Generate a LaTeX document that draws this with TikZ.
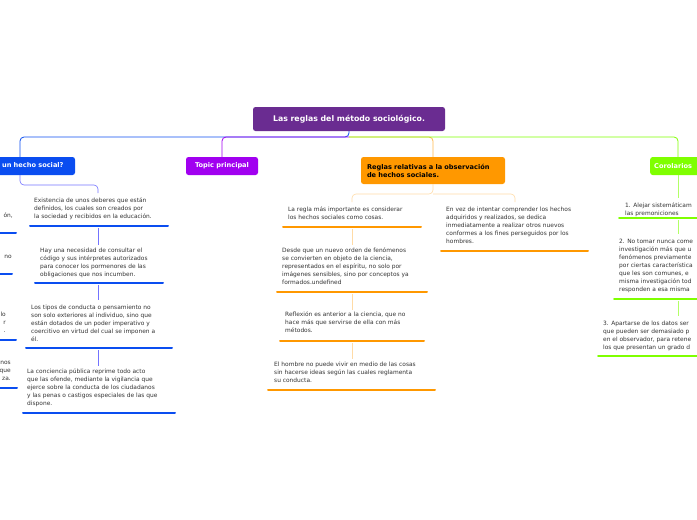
\documentclass[tikz,border=0pt]{standalone}
\usepackage{fontspec}
\setmainfont{DejaVu Sans}
\begin{document}
\begin{tikzpicture}[x=1pt,y=-1pt,
  txt/.style={font=\fontsize{5.9}{8}\selectfont, text=black!80, inner sep=0pt, align=left},
  hd/.style={font=\fontsize{6.6}{8}\selectfont\bfseries, rounded corners=2.5pt, inner sep=0pt},
  bl/.style={draw=blue!55!white, line width=0.6pt},
  ul/.style={line width=2pt, line cap=round}]
\definecolor{cb}{HTML}{0A4DF0}\definecolor{cp}{HTML}{6A2C91}\definecolor{cv}{HTML}{A100F0}
\definecolor{co}{HTML}{FF9800}\definecolor{cg}{HTML}{7FFF00}
\path[use as bounding box] (0,0) rectangle (697,520);
\clip (0,0) rectangle (697,520);
% root
\node[hd, font=\fontsize{7.8}{9}\selectfont\bfseries, fill=cp, text=white, minimum width=192, minimum height=24] (root) at (349,119) {Las reglas del método sociológico.};
% top connectors
\coordinate (rb) at (349,137);
\draw[cb, line width=0.8pt, rounded corners=4pt] (root.south) -- (rb) -- (20,137) -- (20,157);
\draw[cv, line width=0.8pt, rounded corners=4pt] (rb) -- (222,137) -- (222,157);
\draw[co!70!white, line width=0.8pt, rounded corners=4pt] (rb) -- (433,137) -- (433,157);
\draw[cg, line width=0.8pt, rounded corners=4pt] (rb) -- (678,137) -- (678,157);
% heads
\node[hd, fill=cb, text=white, minimum width=116, minimum height=18] (h1) at (17,166) {¿Qué es un hecho social?};
\node[hd, fill=cv, text=white, minimum width=72, minimum height=18] (h2) at (222,166) {Topic principal};
\node[hd, fill=co, text=black, minimum width=144, minimum height=27, align=left, text width=132] (h3) at (433,170.5) {Reglas relativas a la observación\\de hechos sociales.};
\node[hd, fill=cg, text=white, minimum width=70, minimum height=18, anchor=west, text width=62] (h4) at (650,166) {Corolarios};
% blue branch
\draw[bl, rounded corners=4pt] (20,175) -- (20,185) -- (98,185) -- (98,193);
\draw[bl] (98,228) -- (98,245) (98,285) -- (98,300) (98,350) -- (98,366);
\node[txt, anchor=north west] (b1) at (34,198) {Existencia de unos deberes que están\\definidos, los cuales son creados por\\la sociedad y recibidos en la educación.};
\draw[ul, cb] (30,226) -- (168,226);
\node[txt, anchor=north west] (b2) at (40,248) {Hay una necesidad de consultar el\\código y sus intérpretes autorizados\\para conocer los pormenores de las\\obligaciones que nos incumben.};
\draw[ul, cb] (35,283) -- (163,283);
\node[txt, anchor=north west] (b3) at (31,305) {Los tipos de conducta o pensamiento no\\son solo exteriores al individuo, sino que\\están dotados de un poder imperativo y\\coercitivo en virtud del cual se imponen a\\él.};
\draw[ul, cb] (26,348) -- (172,348);
\node[txt, anchor=north west] (b4) at (27,369) {La conciencia pública reprime todo acto\\que las ofende, mediante la vigilancia que\\ejerce sobre la conducta de los ciudadanos\\y las penas o castigos especiales de las que\\dispone.};
\draw[ul, cb] (23,413) -- (175,413);
% left fragments
\node[txt, anchor=north east, align=right] (l1) at (13,213) {ón,};
\draw[ul, cb] (-5,233) -- (16,233);
\node[txt, anchor=north east, align=right] (l2) at (12,255) {no};
\draw[ul, cb] (-5,274) -- (12,274);
\node[txt, anchor=north east, align=right] (l3) at (6,312) {lo\\r\\.};
\draw[ul, cb] (-5,340) -- (16,340);
\node[txt, anchor=north east, align=right] (l4) at (11,361) {nos\\que\\za.};
\draw[ul, cb] (-5,388) -- (17,388);
% orange branch
\draw[co!35!white, line width=0.6pt, rounded corners=4pt] (h3.south) -- (433,194) -- (352,194) -- (352,202);
\draw[co!35!white, line width=0.6pt, rounded corners=4pt] (433,194) -- (515,194) -- (515,202);
\draw[co!35!white, line width=0.6pt] (352,229) -- (352,245) (352,294) -- (352,310) (352,343) -- (352,359);
\node[txt, anchor=north west] (o1) at (288,207) {La regla más importante es considerar\\los hechos sociales como cosas.};
\draw[ul, co] (283,227) -- (421,227);
\node[txt, anchor=north west] (o2) at (282,248) {Desde que un nuevo orden de fenómenos\\se convierten en objeto de la ciencia,\\representados en el espíritu, no solo por\\imágenes sensibles, sino por conceptos ya\\formados.undefined};
\draw[ul, co] (277,292) -- (427,292);
\node[txt, anchor=north west] (o3) at (285,312) {Reflexión es anterior a la ciencia, que no\\hace más que servirse de ella con más\\métodos.};
\draw[ul, co] (280,341) -- (424,341);
\node[txt, anchor=north west] (o4) at (274,362) {El hombre no puede vivir en medio de las cosas\\sin hacerse ideas según las cuales reglamenta\\su conducta.};
\draw[ul, co] (268,390) -- (435,390);
\node[txt, anchor=north west] (o5) at (446,207) {En vez de intentar comprender los hechos\\adquiridos y realizados, se dedica\\inmediatamente a realizar otros nuevos\\conformes a los fines perseguidos por los\\hombres.};
\draw[ul, co] (441,251) -- (588,251);
% green branch
\draw[cg!60!white, line width=0.6pt] (678,175) -- (678,198) (678,220) -- (678,234) (678,301) -- (678,316);
\node[txt, anchor=north west] (g1) at (625,203) {1. Alejar sistemáticam\\las premoniciones};
\draw[ul, cg] (619,218) -- (700,218);
\node[txt, anchor=north west] (g2) at (619,239) {2. No tomar nunca come\\investigación más que u\\fenómenos previamente\\por ciertas característica\\que les son comunes, e\\misma investigación tod\\responden a esa misma};
\draw[ul, cg] (614,299) -- (700,299);
\node[txt, anchor=north west] (g3) at (603,321) {3. Apartarse de los datos ser\\que pueden ser demasiado p\\en el observador, para retene\\los que presentan un grado d};
\draw[ul, cg] (598,356) -- (700,356);
\end{tikzpicture}
\end{document}
